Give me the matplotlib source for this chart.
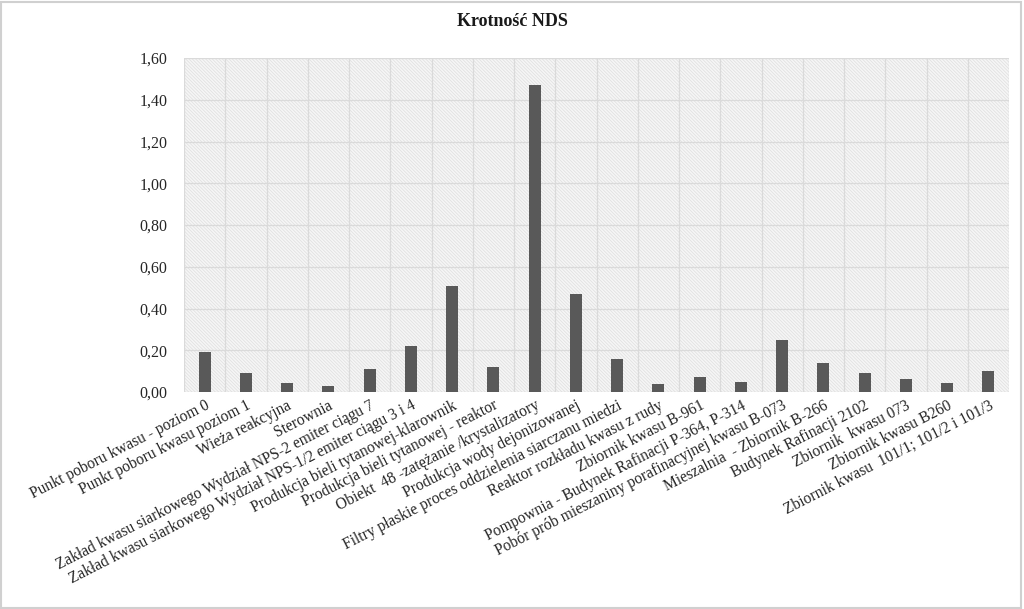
import matplotlib
matplotlib.use("Agg")
import matplotlib.pyplot as plt
from matplotlib.patches import Rectangle
import numpy as np

categories = [
    "Punkt poboru kwasu - poziom 0",
    "Punkt poboru kwasu poziom 1",
    "Wieża reakcyjna",
    "Sterownia",
    "Zakład kwasu siarkowego Wydział NPS-2 emiter ciągu 7",
    "Zakład kwasu siarkowego Wydział NPS-1/2 emiter ciągu 3 i 4",
    "Produkcja bieli tytanowej-klarownik",
    "Produkcja bieli tytanowej - reaktor",
    "Obiekt  48 -zatężanie /krystalizatory",
    "Produkcja wody dejonizowanej",
    "Filtry płaskie proces oddzielenia siarczanu miedzi",
    "Reaktor rozkładu kwasu z rudy",
    "Zbiornik kwasu B-961",
    "Pompownia - Budynek Rafinacji P-364, P-314",
    "Pobór prób mieszaniny porafinacyjnej kwasu B-073",
    "Mieszalnia  - Zbiornik B-266",
    "Budynek Rafinacji 2102",
    "Zbiornik  kwasu 073",
    "Zbiornik kwasu B260",
    "Zbiornik kwasu  101/1; 101/2 i 101/3",
]
values = [0.19, 0.09, 0.045, 0.03, 0.11, 0.22, 0.51, 0.12, 1.47, 0.47,
          0.16, 0.04, 0.07, 0.05, 0.25, 0.14, 0.09, 0.06, 0.045, 0.10]
yticks = [0.0, 0.2, 0.4, 0.6, 0.8, 1.0, 1.2, 1.4, 1.6]
ytick_labels = ["0,00", "0,20", "0,40", "0,60", "0,80", "1,00", "1,20", "1,40", "1,60"]
title = "Krotność NDS"

plt.rcParams['font.family'] = ['Liberation Serif', 'DejaVu Serif']
plt.rcParams['hatch.linewidth'] = 0.5
plt.rcParams['hatch.color'] = '#dedede'

fig = plt.figure(figsize=(10.24, 6.09), dpi=100)
W, H = 1024, 609
left, right, top, bottom = 184, 1009, 58, 392
ax = fig.add_axes([left / W, 1 - bottom / H, (right - left) / W, (bottom - top) / H])

n = len(categories)
x = np.arange(n)
ax.set_xlim(-0.5, n - 0.5)
ax.set_ylim(0, 1.6)

# hatched background
bg = Rectangle((0, 0), 1, 1, transform=ax.transAxes, facecolor='#f6f6f6',
               edgecolor='#dedede', hatch='\\' * 10, linewidth=0, zorder=0)
ax.add_patch(bg)

# gridlines
for yv in yticks:
    ax.axhline(yv, color='#dadada', linewidth=0.9, zorder=1)
for k in range(n + 1):
    ax.axvline(k - 0.5, color='#dadada', linewidth=0.9, zorder=1)

ax.bar(x, values, width=0.29, color='#595959', zorder=3)

for s in ax.spines.values():
    s.set_visible(False)

ax.set_yticks(yticks)
ax.set_yticklabels(ytick_labels, fontsize=11.5, color='#262626')
ax.set_xticks(x)
ax.set_xticklabels(categories, rotation=27, ha='right', rotation_mode='anchor',
                   fontsize=11.2, color='#262626')
ax.tick_params(axis='both', length=0)
ax.tick_params(axis='y', pad=12)
ax.tick_params(axis='x', pad=4)

fig.text(512 / W, 1 - 22 / H, title, ha='center', va='center',
         fontsize=13, fontweight='bold', color='#1a1a1a')

# outer border
fig.patches.append(Rectangle((0.001, 0.002), 0.996, 0.995, transform=fig.transFigure,
                             fill=False, edgecolor='#d0d0d0', linewidth=1.5))

fig.savefig("out.png", dpi=100)
